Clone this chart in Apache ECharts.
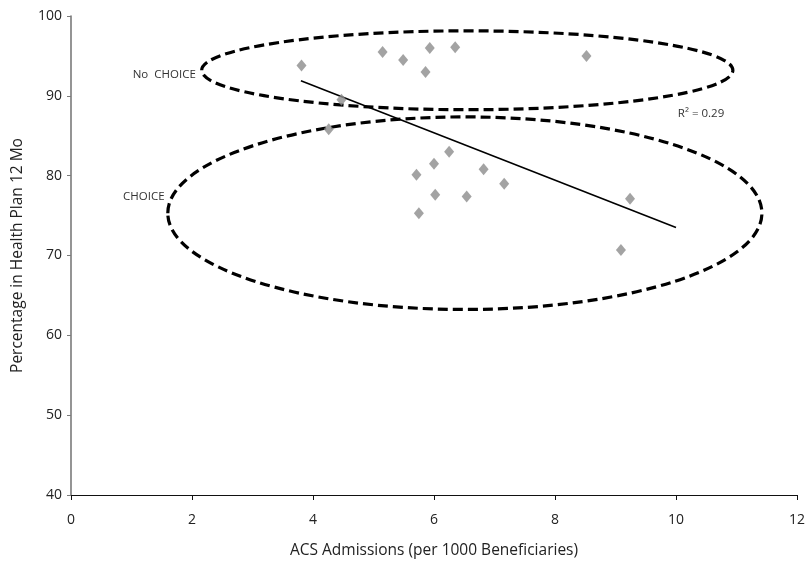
<!DOCTYPE html>
<html>
<head>
<meta charset="utf-8">
<script src="https://cdn.jsdelivr.net/npm/echarts@6/dist/echarts.min.js"></script>
<style>
html,body{margin:0;padding:0;background:#fff;}
#chart{width:807px;height:565px;}
</style>
</head>
<body>
<div id="chart"></div>
<script>
// Scatter points
const admissions = [3.81, 5.15, 5.49, 5.93, 6.35, 5.86, 8.52, 4.47, 4.26, 6.25, 6.00, 5.71, 6.82, 7.16, 6.02, 6.54, 5.75, 9.24, 9.09];
const percentage = [93.8, 95.5, 94.5, 96.0, 96.1, 93.0, 95.0, 89.5, 85.8, 83.0, 81.5, 80.1, 80.8, 79.0, 77.6, 77.4, 75.3, 77.1, 70.7];

// Trend line end points
const trendX = [3.8, 10.0];
const trendY = [91.9, 73.5];

// Group ellipses (data units): centre x, centre y, radius x, radius y
const ellipseCx = [6.55, 6.51];
const ellipseCy = [93.2, 75.3];
const ellipseRx = [4.39, 4.91];
const ellipseRy = [4.94, 12.06];

// Annotation texts (data units, left anchored)
const noteText = ['No  CHOICE', 'CHOICE', 'R\u00B2 = 0.29'];
const noteX = [1.02, 0.86, 10.03];
const noteY = [92.6, 77.4, 87.75];

const xTicks = [0, 2, 4, 6, 8, 10, 12];
const yTicks = [40, 50, 60, 70, 80, 90, 100];

const FONT = '"Open Sans", "Noto Sans", sans-serif';

const chart = echarts.init(document.getElementById('chart'), null, {renderer: 'canvas'});

const option = {
  backgroundColor: '#fff',
  animation: false,
  grid: {left: 71, right: 10, top: 16, bottom: 70, containLabel: false, outerBoundsMode: 'none'},
  xAxis: {
    type: 'value',
    min: xTicks[0], max: xTicks[xTicks.length - 1], interval: 2,
    name: 'ACS Admissions (per 1000 Beneficiaries)',
    nameLocation: 'middle', nameGap: 48,
    nameTextStyle: {fontFamily: FONT, fontSize: 15.5, color: '#222'},
    axisLine: {show: true, onZero: false, lineStyle: {color: '#111', width: 1.2}},
    axisTick: {show: true, length: 5, lineStyle: {color: '#111'}},
    axisLabel: {fontFamily: FONT, fontSize: 14, color: '#222', margin: 18},
    splitLine: {show: false}
  },
  yAxis: {
    type: 'value',
    min: yTicks[0], max: yTicks[yTicks.length - 1], interval: 10,
    name: 'Percentage in Health Plan 12 Mo',
    nameLocation: 'middle', nameGap: 45,
    nameTextStyle: {fontFamily: FONT, fontSize: 15.5, color: '#222'},
    axisLine: {show: true, onZero: false, lineStyle: {color: '#7a7a7a', width: 1.6}},
    axisTick: {show: true, length: 4, lineStyle: {color: '#7a7a7a'}},
    axisLabel: {fontFamily: FONT, fontSize: 14, color: '#222', margin: 9},
    splitLine: {show: false}
  },
  series: [
    {
      type: 'custom',
      name: 'groups',
      silent: true,
      clip: false,
      data: ellipseCx.map((cx, i) => [cx, ellipseCy[i], ellipseRx[i], ellipseRy[i]]),
      renderItem: function (params, api) {
        const c = api.coord([api.value(0), api.value(1)]);
        const s = api.size([api.value(2), api.value(3)]);
        return {
          type: 'ellipse',
          shape: {cx: c[0], cy: c[1], rx: s[0], ry: s[1]},
          style: {fill: 'none', stroke: '#000', lineWidth: 3.2, lineDash: [10, 5]}
        };
      },
      z: 1
    },
    {
      type: 'line',
      name: 'trend',
      data: trendX.map((x, i) => [x, trendY[i]]),
      symbol: 'none',
      lineStyle: {color: '#000', width: 1.6},
      z: 3
    },
    {
      type: 'scatter',
      name: 'plans',
      data: admissions.map((x, i) => [x, percentage[i]]),
      symbol: 'diamond',
      symbolSize: [10, 12],
      itemStyle: {color: '#8c8c8c'},
      z: 4
    },
    {
      type: 'custom',
      name: 'notes',
      silent: true,
      clip: false,
      data: noteX.map((x, i) => [x, noteY[i], i]),
      renderItem: function (params, api) {
        const c = api.coord([api.value(0), api.value(1)]);
        return {
          type: 'text',
          x: c[0], y: c[1],
          style: {
            text: noteText[api.value(2)],
            font: '11.5px ' + FONT,
            fill: '#333',
            textAlign: 'left',
            textVerticalAlign: 'middle'
          }
        };
      },
      z: 5
    }
  ]
};

chart.setOption(option);
</script>
</body>
</html>
